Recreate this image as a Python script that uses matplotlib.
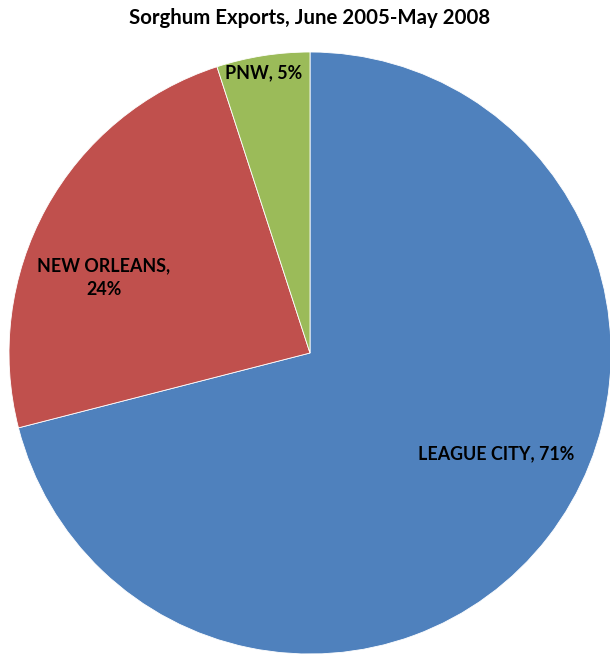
import matplotlib.pyplot as plt

# sorghum export shares by port region
ports = ['LEAGUE CITY', 'NEW ORLEANS', 'PNW']
shares = [71, 24, 5]
colors = ['#4F81BD', '#C0504D', '#9BBB59']
label_text = ['LEAGUE CITY, 71%', 'NEW ORLEANS,\n24%', 'PNW, 5%']
label_pos = [(0.62, -0.335), (-0.685, 0.25), (-0.153, 0.93)]

plt.rcParams['font.family'] = ['Lato', 'DejaVu Sans']

fig = plt.figure(figsize=(6.1, 6.68), dpi=100)
ax = fig.add_axes([0, 0, 1, 1])
r = 301.0

ax.pie(shares, colors=colors, startangle=90, counterclock=False,
       radius=1.0, wedgeprops=dict(edgecolor='white', linewidth=0.6))
ax.set_xlim(-310 / r, 300 / r)
ax.set_ylim(-315 / r, 353 / r)
ax.set_aspect('auto')
ax.axis('off')

for txt, (x, y) in zip(label_text, label_pos):
    ax.text(x, y, txt, ha='center', va='center', fontsize=12.9,
            fontweight='bold', linespacing=1.5)

fig.text(310 / 610, 1 - 18 / 668, 'Sorghum Exports, June 2005-May 2008',
         ha='center', va='center', fontsize=14.7, fontweight='bold')

fig.savefig('out.png', dpi=100)
